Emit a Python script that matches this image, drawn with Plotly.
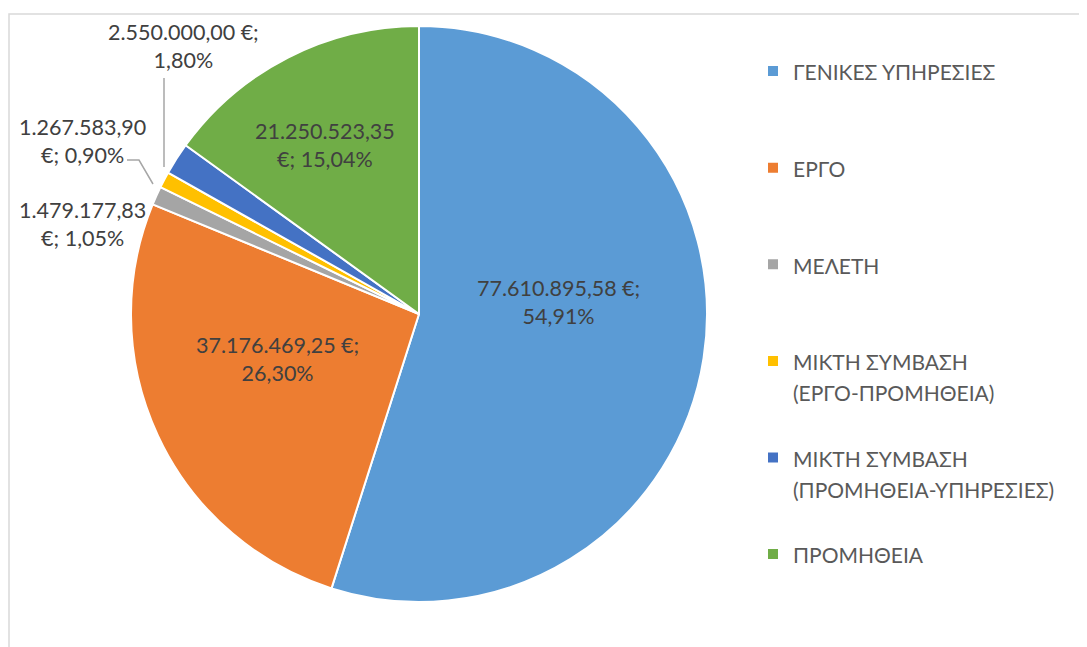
import plotly.graph_objects as go

# ---------------- data ----------------
categories = [
    "ΓΕΝΙΚΕΣ ΥΠΗΡΕΣΙΕΣ",
    "ΕΡΓΟ",
    "ΜΕΛΕΤΗ",
    "ΜΙΚΤΗ ΣΥΜΒΑΣΗ (ΕΡΓΟ-ΠΡΟΜΗΘΕΙΑ)",
    "ΜΙΚΤΗ ΣΥΜΒΑΣΗ (ΠΡΟΜΗΘΕΙΑ-ΥΠΗΡΕΣΙΕΣ)",
    "ΠΡΟΜΗΘΕΙΑ",
]
values = [77610895.58, 37176469.25, 1479177.83, 1267583.90, 2550000.00, 21250523.35]
colors = ["#5B9BD5", "#ED7D31", "#A5A5A5", "#FFC000", "#4472C4", "#70AD47"]

# ---------------- geometry / style ----------------
W, H = 1087, 647
OFF = 8                               # default page (body) margin
CX, CY, R = 419, 314, 288             # pie centre and radius (screen px)
FONT = "Lato, 'Noto Sans', sans-serif"
LABEL_COLOR = "#404040"
LEGEND_COLOR = "#595959"
LABEL_SIZE = 21.5
LEGEND_LINE_SIZE = 24                 # governs legend line spacing
LEGEND_GLYPH_SIZE = 21                # visible legend text size
LEGEND_LINES = 3

def px(x):
    return (x - OFF) / W

def py(y):
    return 1 - (y - OFF) / H

def gr_num(v):
    return f"{v:,.2f}".replace(",", "X").replace(".", ",").replace("X", ".")

total = sum(values)

def gr_pct(v):
    return f"{v / total * 100:.2f}".replace(".", ",") + "%"

# legend labels: break the long ones, pad all to the same line count
legend_labels = []
for c in categories:
    lines = c.replace(" (", "\n(").split("\n")
    lines += [" "] * (LEGEND_LINES - len(lines))
    legend_labels.append("<br>".join(
        f"<span style='font-size:{LEGEND_GLYPH_SIZE}px'>{ln}</span>" for ln in lines))

fig = go.Figure()
fig.add_trace(go.Pie(
    labels=legend_labels,
    values=values,
    sort=False,
    direction="clockwise",
    rotation=0,
    marker=dict(colors=colors, line=dict(color="white", width=2)),
    textinfo="none",
    hoverinfo="value+percent",
    domain=dict(x=[px(CX - R), px(CX + R)], y=[py(CY + R), py(CY - R)]),
))

# data labels (text built from the data arrays)
label_text = [
    f"{gr_num(values[0])}\u202f€;<br>{gr_pct(values[0])}",
    f"{gr_num(values[1])}\u202f€;<br>{gr_pct(values[1])}",
    f"{gr_num(values[2])}<br>€; {gr_pct(values[2])}",
    f"{gr_num(values[3])}<br>€; {gr_pct(values[3])}",
    f"{gr_num(values[4])}\u202f€;<br>{gr_pct(values[4])}",
    f"{gr_num(values[5])}<br>€; {gr_pct(values[5])}",
]
label_pos = [(558, 302), (277, 359), (82, 224), (82, 141), (183, 46), (325, 145)]

annots = []
for t, (lx, ly) in zip(label_text, label_pos):
    annots.append(dict(
        x=px(lx), y=py(ly), xref="paper", yref="paper",
        text=t, showarrow=False, align="center",
        xanchor="center", yanchor="middle",
        font=dict(family=FONT, size=LABEL_SIZE, color=LABEL_COLOR),
    ))

def path(pts):
    return "M " + " L ".join(f"{px(x)},{py(y)}" for x, y in pts)

leader = dict(color="#A6A6A6", width=1.5)
shapes = [
    dict(type="rect", xref="paper", yref="paper",
         x0=px(9), y0=py(14), x1=1.05, y1=-0.05,
         line=dict(color="#D9D9D9", width=1.5), fillcolor="rgba(0,0,0,0)",
         layer="below"),
    dict(type="path", xref="paper", yref="paper",
         path=path([(164, 78), (164, 167)]), line=leader),
    dict(type="path", xref="paper", yref="paper",
         path=path([(127, 160), (139, 160), (153, 184)]), line=leader),
]

fig.update_layout(
    width=W, height=H,
    margin=dict(l=0, r=0, t=0, b=0),
    paper_bgcolor="white",
    font=dict(family=FONT, color=LABEL_COLOR),
    showlegend=True,
    legend=dict(
        x=px(753), y=py(49), xanchor="left", yanchor="top",
        font=dict(family=FONT, size=LEGEND_LINE_SIZE, color=LEGEND_COLOR),
        valign="top",
        bgcolor="rgba(0,0,0,0)",
    ),
    annotations=annots,
    shapes=shapes,
)

fig.write_html("out.html")
